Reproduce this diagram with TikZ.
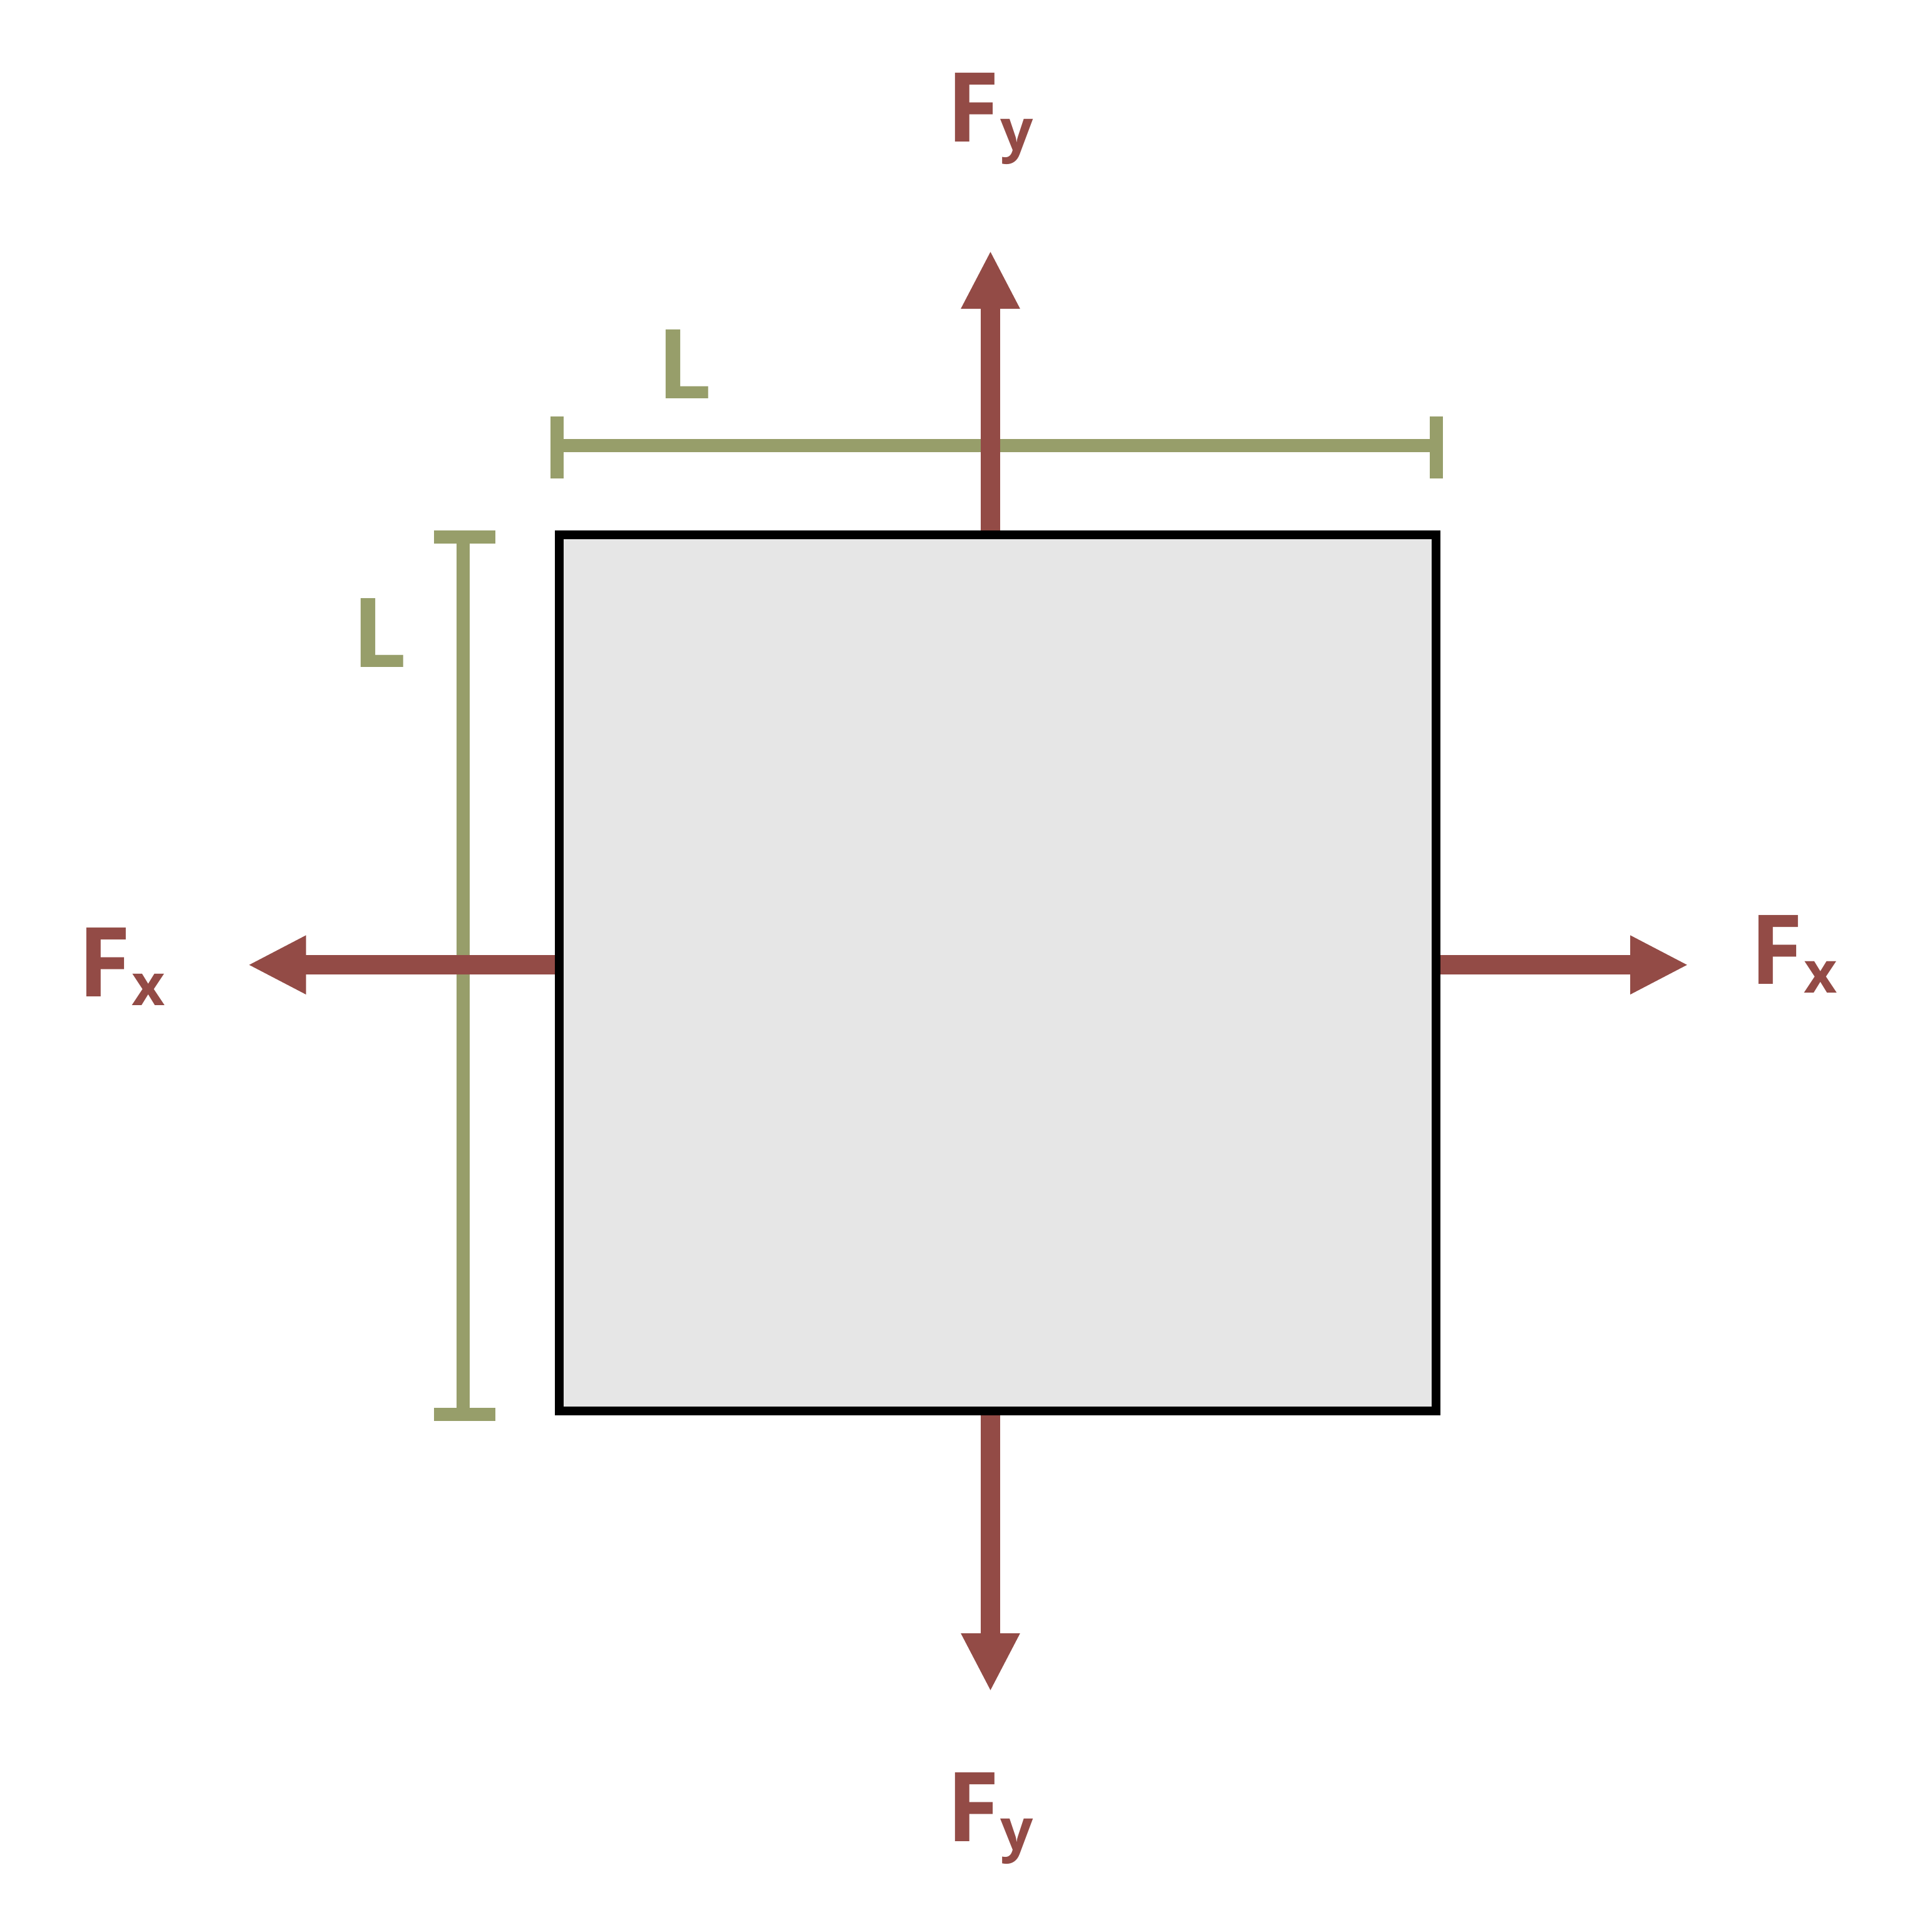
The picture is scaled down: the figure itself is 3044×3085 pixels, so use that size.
\documentclass[tikz,border=0pt]{standalone}
\usepackage{fontspec}
\setmainfont{Open Sans}
\usetikzlibrary{arrows.meta}
\definecolor{force}{RGB}{147,75,70}
\definecolor{dimc}{RGB}{151,158,106}
\definecolor{boxfill}{RGB}{230,230,230}
\newcommand{\subsc}[1]{\kern0.5pt\raisebox{-3.5pt}{\fontsize{23}{23}\selectfont #1}}
\begin{document}
\begin{tikzpicture}[x=0.25pt,y=-0.25pt,
  lab/.style={inner sep=0pt, outer sep=0pt, anchor=base west, font=\fontsize{38.5}{40}\selectfont\bfseries},
  forcelbl/.style={lab, text=force},
  dimlbl/.style={lab, text=dimc},
  forcearrow/.style={draw=force, line width=7.75pt, -{Triangle[length=23.25pt,width=21.8pt]}},
  dimline/.style={draw=dimc, line width=5.25pt},
  block/.style={draw=black, line width=3.5pt, fill=boxfill, minimum width=350pt, minimum height=349.75pt, inner sep=0pt}
  ]
\useasboundingbox (0,0) rectangle (3044,3085);
% dimension lines
\coordinate (hA) at (889.5,711.5);
\coordinate (hB) at (2293,711.5);
\coordinate (hAt) at (889.5,665);
\coordinate (hAb) at (889.5,764);
\coordinate (hBt) at (2293,665);
\coordinate (hBb) at (2293,764);
\draw[dimline] (hA) -- (hB);
\draw[dimline] (hAt) -- (hAb);
\draw[dimline] (hBt) -- (hBb);
\coordinate (vA) at (739.6,857);
\coordinate (vB) at (739.6,2258.7);
\coordinate (vAl) at (693.3,857);
\coordinate (vAr) at (791,857);
\coordinate (vBl) at (693.3,2258.7);
\coordinate (vBr) at (791,2258.7);
\draw[dimline] (vA) -- (vB);
\draw[dimline] (vAl) -- (vAr);
\draw[dimline] (vBl) -- (vBr);
% block
\node[block] (sq) at (1593,1553.35) {};
% force arrows
\coordinate (topTip) at (1581.5,400);
\coordinate (botTip) at (1581.5,2701);
\coordinate (leftTip) at (395.7,1540.7);
\coordinate (rightTip) at (2696,1540.7);
\draw[forcearrow] (topTip |- sq.north) -- (topTip);
\draw[forcearrow] (botTip |- sq.south) -- (botTip);
\draw[forcearrow] (leftTip -| sq.west) -- (leftTip);
\draw[forcearrow] (rightTip -| sq.east) -- (rightTip);
% labels
\node[dimlbl] (Ltop) at (1049,636) {L};
\node[dimlbl] (Lleft) at (562,1065.7) {L};
\node[forcelbl] (FyTop) at (1511,226) {F\subsc{y}};
\node[forcelbl] (FyBot) at (1511,2940) {F\subsc{y}};
\node[forcelbl] (FxLeft) at (124,1591.7) {F\subsc{x}};
\node[forcelbl] (FxRight) at (2794,1571.7) {F\subsc{x}};
\end{tikzpicture}
\end{document}
